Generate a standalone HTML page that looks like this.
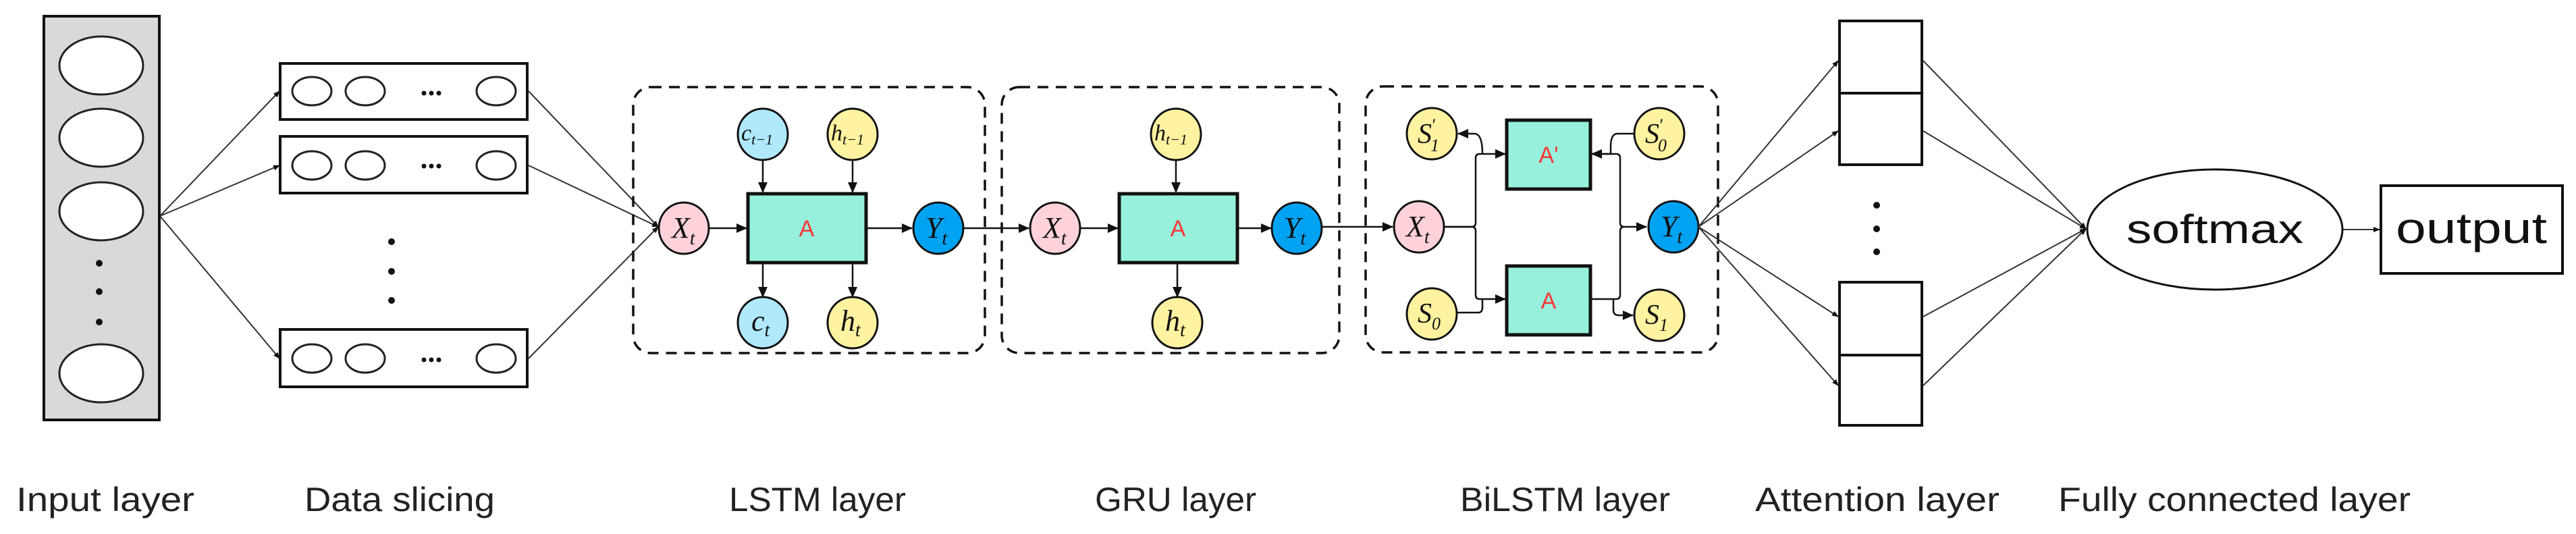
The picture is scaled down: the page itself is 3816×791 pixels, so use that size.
<!DOCTYPE html>
<html><head><meta charset="utf-8"><style>
html,body{margin:0;padding:0;background:#fff;}
svg{display:block;}
.lab{font-family:"Liberation Sans",sans-serif;font-size:50px;fill:#222;}
.m{font-family:"Liberation Serif",serif;font-style:italic;fill:#111;}
.A{font-family:"Liberation Sans",sans-serif;font-size:34px;fill:#ff3333;}
</style></head><body>
<svg width="3816" height="791" viewBox="0 0 3816 791" xmlns="http://www.w3.org/2000/svg">
<defs>
<marker id="ar" markerWidth="10" markerHeight="10" refX="9" refY="5" orient="auto" markerUnits="userSpaceOnUse">
<path d="M0,1 L10,5 L0,9 z" fill="#111"/></marker>
<marker id="ar2" markerWidth="16" markerHeight="16" refX="15" refY="8" orient="auto" markerUnits="userSpaceOnUse">
<path d="M0,1 L16,8 L0,15 z" fill="#111"/></marker>
</defs>

<!-- Input layer -->
<rect x="65" y="24" width="171" height="598" fill="#d9d9d9" stroke="#111" stroke-width="4"/>
<g fill="#fff" stroke="#222" stroke-width="3">
<ellipse cx="150" cy="97" rx="62" ry="43"/>
<ellipse cx="150" cy="204" rx="62" ry="43"/>
<ellipse cx="150" cy="313" rx="62" ry="43"/>
<ellipse cx="150" cy="553" rx="62" ry="43"/>
</g>
<g fill="#111"><circle cx="147" cy="390" r="5"/><circle cx="147" cy="432" r="5"/><circle cx="147" cy="477" r="5"/></g>

<!-- Data slicing -->
<g fill="#fff" stroke="#111" stroke-width="4">
<rect x="415" y="94" width="366" height="83"/>
<rect x="415" y="202" width="366" height="84"/>
<rect x="415" y="488" width="366" height="85"/>
</g>
<g fill="none" stroke="#222" stroke-width="3">
<ellipse cx="462" cy="135" rx="29" ry="21"/><ellipse cx="541" cy="135" rx="29" ry="21"/><ellipse cx="735" cy="135" rx="29" ry="21"/>
<ellipse cx="462" cy="245" rx="29" ry="21"/><ellipse cx="541" cy="245" rx="29" ry="21"/><ellipse cx="735" cy="245" rx="29" ry="21"/>
<ellipse cx="462" cy="531" rx="29" ry="21"/><ellipse cx="541" cy="531" rx="29" ry="21"/><ellipse cx="735" cy="531" rx="29" ry="21"/>
</g>
<g fill="#111">
<circle cx="628" cy="138" r="3.5"/><circle cx="639" cy="138" r="3.5"/><circle cx="650" cy="138" r="3.5"/>
<circle cx="628" cy="246" r="3.5"/><circle cx="639" cy="246" r="3.5"/><circle cx="650" cy="246" r="3.5"/>
<circle cx="628" cy="533" r="3.5"/><circle cx="639" cy="533" r="3.5"/><circle cx="650" cy="533" r="3.5"/>
<circle cx="580" cy="358" r="5"/><circle cx="580" cy="402" r="5"/><circle cx="580" cy="445" r="5"/>
</g>
<g stroke="#333" stroke-width="2" fill="none" marker-end="url(#ar)">
<line x1="237" y1="320" x2="414" y2="135"/>
<line x1="237" y1="320" x2="414" y2="245"/>
<line x1="237" y1="320" x2="414" y2="531"/>
<line x1="783" y1="135" x2="975" y2="336"/>
<line x1="783" y1="245" x2="975" y2="336"/>
<line x1="783" y1="531" x2="975" y2="336"/>
</g>

<!-- dashed boxes -->
<g fill="none" stroke="#111" stroke-width="3.5" stroke-dasharray="16,11">
<rect x="938" y="129" width="521" height="394" rx="26"/>
<rect x="1484" y="129" width="500" height="394" rx="26"/>
<rect x="2023" y="128" width="522" height="394" rx="26"/>
</g>

<!-- LSTM -->
<g stroke="#111" stroke-width="2.5" fill="none" marker-end="url(#ar2)">
<line x1="1050" y1="338" x2="1106" y2="338"/>
<line x1="1283" y1="338" x2="1351" y2="338"/>
<line x1="1130" y1="237" x2="1130" y2="285"/>
<line x1="1263" y1="237" x2="1263" y2="285"/>
<line x1="1130" y1="391" x2="1130" y2="440"/>
<line x1="1263" y1="391" x2="1263" y2="440"/>
<line x1="1428" y1="338" x2="1524" y2="338"/>
<line x1="1600" y1="338" x2="1656" y2="338"/>
<line x1="1833" y1="338" x2="1883" y2="338"/>
<line x1="1742" y1="237" x2="1742" y2="285"/>
<line x1="1744" y1="391" x2="1744" y2="440"/>
<line x1="1959" y1="336" x2="2063" y2="336"/>
</g>
<rect x="1108" y="287" width="175" height="102" fill="#96f0dc" stroke="#111" stroke-width="5"/>
<text x="1195" y="350" text-anchor="middle" class="A">A</text>
<rect x="1658" y="287" width="175" height="102" fill="#96f0dc" stroke="#111" stroke-width="5"/>
<text x="1745" y="350" text-anchor="middle" class="A">A</text>

<g stroke="#111" stroke-width="3">
<ellipse cx="1013" cy="338" rx="37" ry="38" fill="#ffd2da"/>
<ellipse cx="1390" cy="338" rx="37" ry="38" fill="#00a2f2"/>
<ellipse cx="1130" cy="199" rx="37" ry="38" fill="#b0e8fc"/>
<ellipse cx="1263" cy="199" rx="37" ry="38" fill="#fff2a0"/>
<ellipse cx="1130" cy="478" rx="37" ry="38" fill="#b0e8fc"/>
<ellipse cx="1263" cy="478" rx="37" ry="38" fill="#fff2a0"/>
<ellipse cx="1563" cy="338" rx="37" ry="38" fill="#ffd2da"/>
<ellipse cx="1921" cy="338" rx="37" ry="38" fill="#00a2f2"/>
<ellipse cx="1742" cy="199" rx="37" ry="38" fill="#fff2a0"/>
<ellipse cx="1744" cy="478" rx="37" ry="38" fill="#fff2a0"/>
</g>
<g class="m">
<text x="995" y="352" font-size="44">X<tspan font-size="28" dy="10">t</tspan></text>
<text x="1371" y="352" font-size="44">Y<tspan font-size="28" dy="10">t</tspan></text>
<text x="1545" y="352" font-size="44">X<tspan font-size="28" dy="10">t</tspan></text>
<text x="1902" y="352" font-size="44">Y<tspan font-size="28" dy="10">t</tspan></text>
<text x="1098" y="208" font-size="34">c<tspan font-size="22" dy="6">t−1</tspan></text>
<text x="1231" y="208" font-size="34">h<tspan font-size="22" dy="6">t−1</tspan></text>
<text x="1710" y="208" font-size="34">h<tspan font-size="22" dy="6">t−1</tspan></text>
<text x="1113" y="490" font-size="44">c<tspan font-size="28" dy="8">t</tspan></text>
<text x="1245" y="490" font-size="44">h<tspan font-size="28" dy="8">t</tspan></text>
<text x="1726" y="490" font-size="44">h<tspan font-size="28" dy="8">t</tspan></text>
</g>

<!-- BiLSTM -->
<g stroke="#111" stroke-width="2.5" fill="none">
<path d="M2139,336 H2180 Q2186,336 2186,330 V234 Q2186,228 2192,228 H2230" marker-end="url(#ar2)"/>
<path d="M2139,336 H2180 Q2186,336 2186,342 V437 Q2186,443 2192,443 H2230" marker-end="url(#ar2)"/>
<path d="M2196,228 Q2196,198 2184,198 H2160" marker-end="url(#ar2)"/>
<path d="M2158,463 H2190 Q2196,463 2196,455 V443"/>
<path d="M2421,198 H2396 Q2386,198 2386,218 V228 H2358" marker-end="url(#ar2)"/>
<path d="M2358,228 H2394 Q2400,228 2400,234 V330 Q2400,336 2406,336 H2439" marker-end="url(#ar2)"/>
<path d="M2356,443 H2394 Q2400,443 2400,437 V342 Q2400,336 2406,336"/>
<path d="M2390,443 V459 Q2390,467 2398,467 H2419" marker-end="url(#ar2)"/>
</g>
<rect x="2232" y="178" width="124" height="102" fill="#96f0dc" stroke="#111" stroke-width="5"/>
<text x="2294" y="241" text-anchor="middle" class="A">A'</text>
<rect x="2232" y="394" width="124" height="102" fill="#96f0dc" stroke="#111" stroke-width="5"/>
<text x="2294" y="457" text-anchor="middle" class="A">A</text>
<g stroke="#111" stroke-width="3">
<ellipse cx="2102" cy="336" rx="37" ry="38" fill="#ffd2da"/>
<ellipse cx="2479" cy="336" rx="37" ry="38" fill="#00a2f2"/>
<ellipse cx="2121" cy="198" rx="37" ry="38" fill="#fff2a0"/>
<ellipse cx="2458" cy="198" rx="37" ry="38" fill="#fff2a0"/>
<ellipse cx="2121" cy="465" rx="37" ry="38" fill="#fff2a0"/>
<ellipse cx="2458" cy="467" rx="37" ry="38" fill="#fff2a0"/>
</g>
<g class="m">
<text x="2083" y="350" font-size="44">X<tspan font-size="28" dy="10">t</tspan></text>
<text x="2460" y="350" font-size="44">Y<tspan font-size="28" dy="10">t</tspan></text>
<text x="2100" y="212" font-size="42">S<tspan font-size="26" dx="-2" dy="12">1</tspan><tspan font-size="26" dx="-12" dy="-30">′</tspan></text>
<text x="2437" y="212" font-size="42">S<tspan font-size="26" dx="-2" dy="12">0</tspan><tspan font-size="26" dx="-12" dy="-30">′</tspan></text>
<text x="2100" y="478" font-size="42">S<tspan font-size="26" dy="10">0</tspan></text>
<text x="2437" y="480" font-size="42">S<tspan font-size="26" dy="10">1</tspan></text>
</g>

<!-- Attention -->
<g fill="#fff" stroke="#111" stroke-width="4">
<rect x="2725" y="31" width="122" height="107"/>
<rect x="2725" y="138" width="122" height="106"/>
<rect x="2725" y="418" width="122" height="108"/>
<rect x="2725" y="526" width="122" height="104"/>
</g>
<g fill="#111"><circle cx="2780" cy="304" r="5"/><circle cx="2780" cy="339" r="5"/><circle cx="2780" cy="373" r="5"/></g>
<g stroke="#333" stroke-width="2" fill="none">
<line x1="2516" y1="336" x2="2723" y2="90" marker-end="url(#ar)"/>
<line x1="2516" y1="336" x2="2723" y2="194" marker-end="url(#ar)"/>
<line x1="2516" y1="336" x2="2723" y2="469" marker-end="url(#ar)"/>
<line x1="2516" y1="336" x2="2723" y2="571" marker-end="url(#ar)"/>
<line x1="2849" y1="90" x2="3090" y2="339" marker-end="url(#ar)"/>
<line x1="2849" y1="194" x2="3090" y2="339" marker-end="url(#ar)"/>
<line x1="2849" y1="469" x2="3090" y2="339" marker-end="url(#ar)"/>
<line x1="2849" y1="571" x2="3090" y2="339" marker-end="url(#ar)"/>
<line x1="3471" y1="340" x2="3525" y2="340" marker-end="url(#ar)"/>
</g>

<!-- softmax / output -->
<ellipse cx="3281" cy="340" rx="189" ry="89" fill="#fff" stroke="#111" stroke-width="3"/>
<text x="3281" y="360" text-anchor="middle" font-family="Liberation Sans,sans-serif" font-size="60" fill="#111" textLength="262" lengthAdjust="spacingAndGlyphs">softmax</text>
<rect x="3527" y="275" width="269" height="130" fill="#fff" stroke="#111" stroke-width="4"/>
<text x="3661" y="360" text-anchor="middle" font-family="Liberation Sans,sans-serif" font-size="64" fill="#111" textLength="224" lengthAdjust="spacingAndGlyphs">output</text>

<!-- labels -->
<text class="lab" x="24" y="757" textLength="264" lengthAdjust="spacingAndGlyphs">Input layer</text>
<text class="lab" x="451" y="757" textLength="282" lengthAdjust="spacingAndGlyphs">Data slicing</text>
<text class="lab" x="1080" y="757" textLength="262" lengthAdjust="spacingAndGlyphs">LSTM layer</text>
<text class="lab" x="1622" y="757" textLength="239" lengthAdjust="spacingAndGlyphs">GRU layer</text>
<text class="lab" x="2163" y="757" textLength="311" lengthAdjust="spacingAndGlyphs">BiLSTM layer</text>
<text class="lab" x="2600" y="757" textLength="362" lengthAdjust="spacingAndGlyphs">Attention layer</text>
<text class="lab" x="3049" y="757" textLength="522" lengthAdjust="spacingAndGlyphs">Fully connected layer</text>
</svg>
</body></html>
